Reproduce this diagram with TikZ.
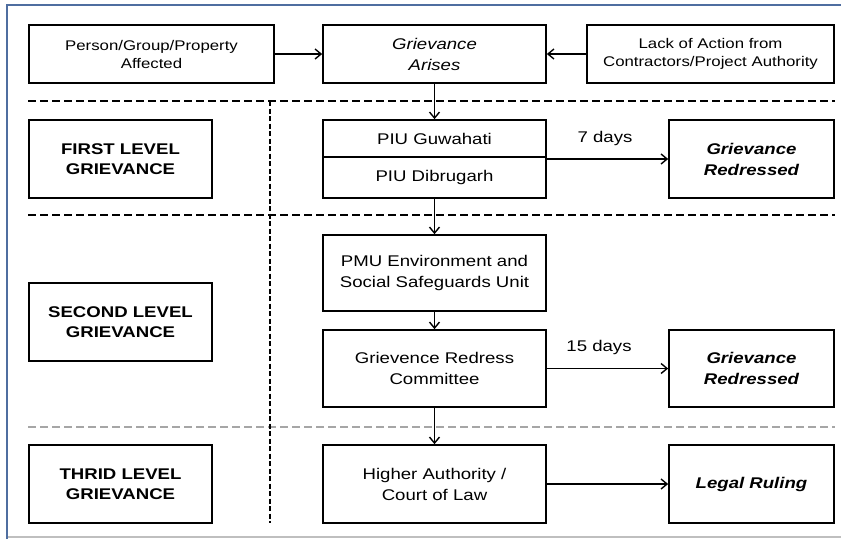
\documentclass[tikz,border=0pt]{standalone}
\usepackage{fontspec}
\setmainfont{Liberation Sans}[FakeStretch=1.2]
\usetikzlibrary{arrows.meta}
\definecolor{framblue}{RGB}{79,110,160}
\begin{document}
\begin{tikzpicture}[x=1pt,y=-1pt,
  box/.style={draw, line width=1.7pt, inner sep=0pt, align=center, font=\fontsize{15.5}{21}\selectfont},
  smallbox/.style={box, font=\fontsize{14}{18}\selectfont},
  lvl/.style={box, font=\fontsize{15.5}{20}\selectfont\bfseries},
  txt/.style={inner sep=0pt, align=center, font=\fontsize{15.5}{21}\selectfont},
  conn/.style={line width=1.4pt, -{Straight Barb[length=6pt,width=10pt,line width=1.4pt]}},
  sep/.style={line width=1.7pt, dash pattern=on 8pt off 4pt},
  vsep/.style={line width=1.1pt, dash pattern=on 5pt off 2.5pt}]
\useasboundingbox (0,0) rectangle (841,539);
% frame
\draw[framblue, line width=2pt] (7,539) -- (7,5) -- (841,5);
\draw[gray!50, line width=1.5pt] (8,537) -- (841,537);
% separators
\coordinate (s1a) at (28,101); \coordinate (s1b) at (835,101);
\coordinate (s2a) at (28,215); \coordinate (s2b) at (835,215);
\coordinate (s3a) at (28,427); \coordinate (s3b) at (835,427);
\coordinate (va) at (270,101); \coordinate (vb) at (270,523);
\draw[sep] (s1a) -- (s1b);
\draw[sep] (s2a) -- (s2b);
\draw[sep, gray!70] (s3a) -- (s3b);
\draw[vsep] (va) -- (vb);
% top row
\node[smallbox, minimum width=245, minimum height=58] (person) at (151.5,54) {Person/Group/Property\\Affected};
\node[box, minimum width=223, minimum height=58, font=\fontsize{15.5}{21}\selectfont\itshape] (arises) at (434.5,54) {Grievance\\Arises};
\node[smallbox, minimum width=247, minimum height=58] (lack) at (710.5,54) {Lack of Action from\\Contractors/Project Authority};
% level labels
\node[lvl, minimum width=183, minimum height=78] (first) at (120.5,159) {FIRST LEVEL\\GRIEVANCE};
\node[lvl, minimum width=183, minimum height=78] (second) at (120.5,322) {SECOND LEVEL\\GRIEVANCE};
\node[lvl, minimum width=183, minimum height=78] (third) at (120.5,484) {THRID LEVEL\\GRIEVANCE};
% centre column
\node[box, minimum width=223, minimum height=78] (piu) at (434.5,159) {};
\draw[line width=1.7pt] ([yshift=2pt]piu.west) -- ([yshift=2pt]piu.east);
\node[txt] (piua) at (434.5,138.5) {PIU Guwahati};
\node[txt] (piub) at (434.5,177.5) {PIU Dibrugarh};
\node[box, minimum width=223, minimum height=76] (pmu) at (434.5,273) {PMU Environment and\\Social Safeguards Unit};
\node[box, minimum width=223, minimum height=77] (grc) at (434.5,368.5) {Grievence Redress\\Committee};
\node[box, minimum width=223, minimum height=78] (higher) at (434.5,484) {Higher Authority /\\Court of Law};
% right column
\node[box, minimum width=165, minimum height=78, font=\fontsize{15.5}{21}\selectfont\bfseries\itshape] (red1) at (751.5,159) {Grievance\\Redressed};
\node[box, minimum width=165, minimum height=77, font=\fontsize{15.5}{21}\selectfont\bfseries\itshape] (red2) at (751.5,368.5) {Grievance\\Redressed};
\node[box, minimum width=165, minimum height=78, font=\fontsize{15.5}{21}\selectfont\bfseries\itshape] (legal) at (751.5,484) {Legal Ruling};
% labels
\node[txt] (d7) at (605,138) {7 days};
\node[txt] (d15) at (599,347) {15 days};
% connectors
\draw[conn] (person.east) -- (arises.west);
\draw[conn] (lack.west) -- (arises.east);
\draw[conn] (arises.south) -- (piu.north);
\draw[conn] (piu.east) -- (red1.west);
\draw[conn] (piu.south) -- (pmu.north);
\draw[conn] (pmu.south) -- (grc.north);
\draw[conn] (grc.east) -- (red2.west);
\draw[conn] (grc.south) -- (higher.north);
\draw[conn] (higher.east) -- (legal.west);
\end{tikzpicture}
\end{document}
